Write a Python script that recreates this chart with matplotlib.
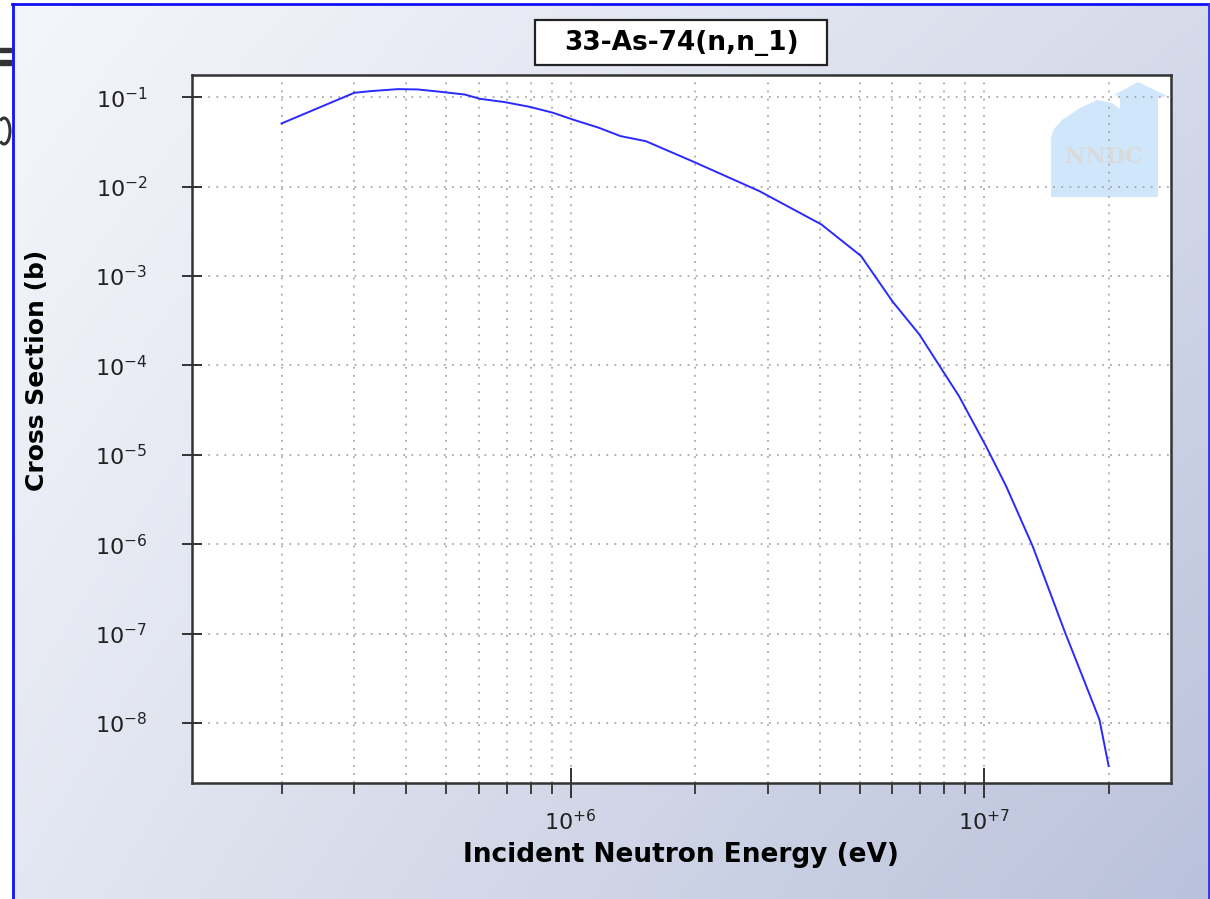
import numpy as np
import matplotlib
matplotlib.use("Agg")
import matplotlib.pyplot as plt
from matplotlib.ticker import LogLocator, FuncFormatter, NullLocator
from matplotlib.patches import Polygon, Rectangle, Arc
from matplotlib.lines import Line2D

# incident neutron energy (eV) and cross section (b)
energy = [2.0e5, 3.0e5, 3.3e5, 3.82e5, 4.27e5, 4.83e5, 5.55e5, 6.03e5, 6.93e5,
          7.96e5, 9.06e5, 1.01e6, 1.17e6, 1.32e6, 1.52e6, 1.97e6, 2.86e6,
          4.04e6, 5.04e6, 6.0e6, 6.97e6, 8.7e6, 1.01e7, 1.13e7, 1.31e7,
          1.57e7, 1.74e7, 1.90e7, 2.0e7]
xsec = [0.0508, 0.112, 0.117, 0.123, 0.122, 0.115, 0.107, 0.096, 0.088,
        0.078, 0.067, 0.0564, 0.0455, 0.0367, 0.0322, 0.0192, 0.0089,
        3.77e-3, 1.67e-3, 5.2e-4, 2.22e-4, 4.5e-5, 1.25e-5, 4.46e-6, 9.5e-7,
        1.02e-7, 3.07e-8, 1.09e-8, 3.3e-9]

title = "33-As-74(n,n_1)"
xlabel = "Incident Neutron Energy (eV)"
ylabel = "Cross Section (b)"

W, H = 1210, 899
fig = plt.figure(figsize=(W / 100, H / 100), dpi=100)
fig.patch.set_facecolor("white")


def fx(px):
    return px / W


def fy(py):
    return 1 - py / H


# background panel with gradient
bg = fig.add_axes([0, 0, 1, 1], zorder=-5)
bg.set_xlim(0, W)
bg.set_ylim(H, 0)
bg.axis("off")
c_tl = np.array([0.96, 0.965, 0.985])
c_tr = np.array([0.84, 0.86, 0.92])
c_bl = np.array([0.89, 0.905, 0.945])
c_br = np.array([0.73, 0.76, 0.86])
u = np.linspace(0, 1, 64)[None, :, None]
v = np.linspace(0, 1, 64)[:, None, None]
grad = (1 - u) * (1 - v) * c_tl + u * (1 - v) * c_tr + (1 - u) * v * c_bl + u * v * c_br
bg.imshow(grad, extent=[12, W, H, 4], aspect="auto", interpolation="bilinear")
bg.add_line(Line2D([12.5, 12.5], [4, H], color="#1010ff", lw=2))
bg.add_line(Line2D([12, W], [4, 4], color="#1010ff", lw=2))
bg.add_line(Line2D([W - 1.5, W - 1.5], [4, H], color="#3030ee", lw=2))
# bits of a neighbouring window at the left edge
bg.add_patch(Rectangle((0, 48), 11, 4, color="#333333"))
bg.add_patch(Rectangle((0, 60), 11, 5, color="#333333"))
bg.add_patch(Arc((4, 131), 12, 26, theta1=-110, theta2=110, color="#333333", lw=2.2))
# title box
bg.add_patch(Rectangle((535, 20), 292, 45, facecolor="white", edgecolor="#222222", lw=1.6))

ax = fig.add_axes([fx(192), fy(783), fx(1171) - fx(192), fy(75) - fy(783)])
ax.set_facecolor("white")

# NNDC logo (under the grid)
logo_px = [(1051, 197), (1051, 138), (1054, 129), (1062, 120), (1080, 108),
           (1097, 100), (1112, 103), (1120, 109), (1120, 96), (1114, 95),
           (1138, 82), (1167, 96), (1158, 98), (1158, 197)]
logo = Polygon([(fx(a), fy(b)) for a, b in logo_px], closed=True,
               transform=fig.transFigure, facecolor="#cfe6fb", edgecolor="none",
               zorder=0.5)
ax.add_patch(logo)
fig.text(fx(1104), fy(157), "NNDC", fontsize=16, family="DejaVu Serif",
         fontweight="bold", color="#dadada", ha="center", va="center", zorder=3)

ax.plot(energy, xsec, color="#2a2aff", lw=1.4, zorder=3)

ax.set_xscale("log")
ax.set_yscale("log")
ax.set_xlim(1.215e5, 2.83e7)
ax.set_ylim(2.13e-9, 0.177)

ax.xaxis.set_major_locator(LogLocator(base=10, numticks=20))
ax.xaxis.set_minor_locator(LogLocator(base=10, subs=np.arange(2, 10), numticks=20))
ax.yaxis.set_major_locator(LogLocator(base=10, numticks=20))
ax.yaxis.set_minor_locator(NullLocator())
ax.xaxis.set_major_formatter(FuncFormatter(lambda v, p: r"$10^{+%d}$" % round(np.log10(v))))
ax.yaxis.set_major_formatter(FuncFormatter(lambda v, p: r"$10^{%d}$" % round(np.log10(v))))

ax.grid(True, which="major", axis="both", color="#a8a8a8", linestyle=(0, (1, 3.5)), lw=1.3)
ax.grid(True, which="minor", axis="x", color="#a8a8a8", linestyle=(0, (1, 3.5)), lw=1.3)

ax.tick_params(axis="x", which="major", direction="inout", length=22, width=1.4,
               colors="#333333", labelsize=16, pad=8, labelcolor="#222222")
ax.tick_params(axis="x", which="minor", direction="out", length=8, width=1.3,
               colors="#333333")
ax.tick_params(axis="y", which="major", direction="inout", length=14, width=1.4,
               colors="#333333", labelsize=16, pad=25, labelcolor="#222222")

for s in ax.spines.values():
    s.set_color("#333333")
    s.set_linewidth(1.8)

fig.text(fx(681), fy(855), xlabel, fontsize=19, fontweight="bold",
         ha="center", va="center")
fig.text(fx(37), fy(370), ylabel, fontsize=18, fontweight="bold",
         ha="center", va="center", rotation=90)
fig.text(fx(681), fy(42.5), title, fontsize=19, fontweight="bold",
         ha="center", va="center")

fig.savefig("out.png", dpi=100)
